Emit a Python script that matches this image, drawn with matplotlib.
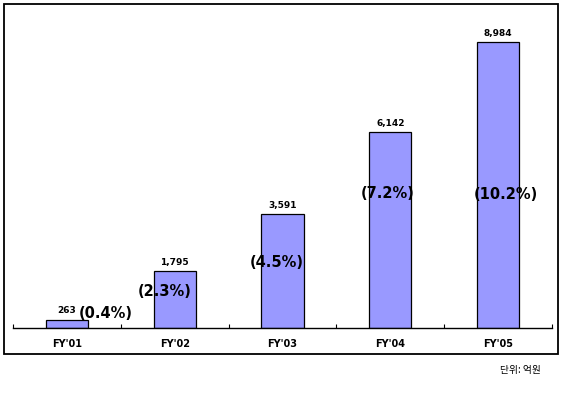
import matplotlib
matplotlib.use("Agg")
import matplotlib.pyplot as plt
from matplotlib.patches import Rectangle

plt.rcParams['font.family'] = ['DejaVu Sans', 'Noto Sans CJK KR']

# data
years = ["FY'01", "FY'02", "FY'03", "FY'04", "FY'05"]
amounts = [263, 1795, 3591, 6142, 8984]
shares = [0.4, 2.3, 4.5, 7.2, 10.2]
unit_note = "단위: 억원"

# where each share label sits (x offset from bar centre, y in data units)
share_dx = [0.36, -0.09, -0.05, -0.02, 0.07]
share_y = [471, 1131, 2042, 4240, 4178]

fig = plt.figure(figsize=(5.67, 3.95), dpi=100)
ax = fig.add_axes([13 / 567, 67 / 395, 539 / 567, 316 / 395])

x = list(range(len(years)))
ax.bar(x, amounts, width=0.39, color='#9999ff', edgecolor='black', linewidth=0.9, zorder=2)

for i, v in enumerate(amounts):
    ax.annotate(f"{v:,}", (i, v), xytext=(0, 3), textcoords='offset points',
                ha='center', va='bottom', fontsize=6.5, fontweight='bold')

for i, s in enumerate(shares):
    ax.text(i + share_dx[i], share_y[i], f"({s}%)", ha='center', va='center',
            fontsize=10.5, fontweight='bold', zorder=3)

ax.set_xlim(-0.5, len(years) - 0.5)
ax.set_ylim(0, 9926)
ax.set_xticks(x)
ax.set_xticklabels(years, fontsize=7, fontweight='bold')
ax.set_xticks([i - 0.5 for i in range(len(years) + 1)], minor=True)
ax.tick_params(axis='x', which='major', length=0, pad=8)
ax.tick_params(axis='x', which='minor', direction='in', length=3, width=0.8)
ax.set_yticks([])
for side in ['top', 'left', 'right']:
    ax.spines[side].set_visible(False)
ax.spines['bottom'].set_linewidth(1.0)

# outer frame
fig.patches.append(Rectangle((4 / 567, 41 / 395), 554 / 567, 350 / 395,
                             transform=fig.transFigure, fill=False,
                             edgecolor='black', linewidth=1.3))

fig.text(520 / 567, 1 - 370 / 395, unit_note, ha='center', va='center',
         fontsize=7, family=['Noto Sans CJK KR', 'DejaVu Sans'])

fig.savefig('out.png', dpi=100)
